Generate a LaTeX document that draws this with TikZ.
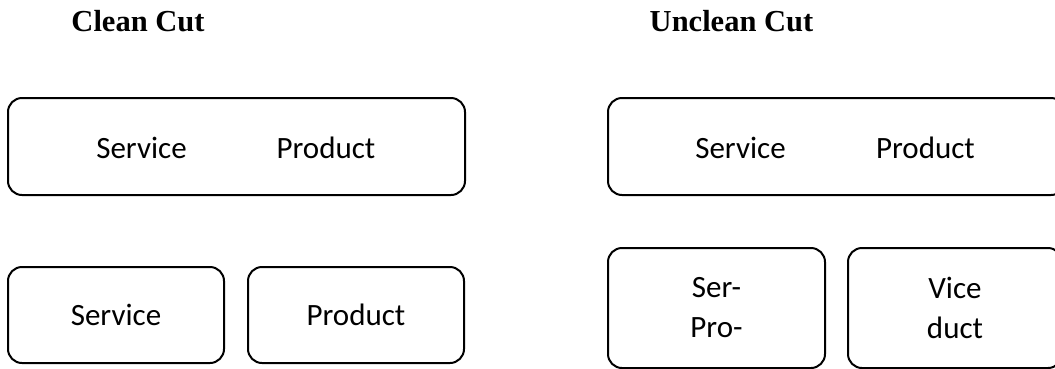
\documentclass[tikz,border=0pt]{standalone}
\usepackage{fontspec}
\setmainfont{Liberation Serif}
\newfontfamily\bodyfont{Carlito}
\begin{document}
\begin{tikzpicture}[x=1pt,y=-1pt,
  box/.style={draw, line width=2pt, rounded corners=14pt, inner sep=0pt},
  lbl/.style={font=\bodyfont\fontsize{31}{40}\selectfont, inner sep=0pt},
  ttl/.style={font=\bfseries\fontsize{30.5}{34}\selectfont, inner sep=0pt}]
\useasboundingbox (0,0) rectangle (1055,368);
\clip (0,0) rectangle (1055,368);
% titles
\node[ttl, anchor=base] (t1) at (138,31) {Clean Cut};
\node[ttl, anchor=base] (t2) at (731.5,31) {Unclean Cut};
% clean cut
\node[box, minimum width=457pt, minimum height=97pt] (cb) at (236.5,146.5) {};
\node[lbl, anchor=base] (cs) at (141.5,158) {Service};
\node[lbl, anchor=base] (cp) at (326,158) {Product};
\node[box, lbl, minimum width=216pt, minimum height=96pt] (cs2) at (116,315) {Service};
\node[box, lbl, minimum width=216pt, minimum height=96pt] (cp2) at (356,315) {Product};
% unclean cut
\node[box, minimum width=457pt, minimum height=97pt] (ub) at (836.5,146.5) {};
\node[lbl, anchor=base] (us) at (740.5,158) {Service};
\node[lbl, anchor=base] (up) at (925.5,158) {Product};
\node[box, lbl, align=center, minimum width=217pt, minimum height=120pt] (u1) at (716.5,308) {Ser-\\Pro-};
\node[box, lbl, align=center, minimum width=214pt, minimum height=120pt] (u2) at (955,308) {Vice\\duct};
\end{tikzpicture}
\end{document}
